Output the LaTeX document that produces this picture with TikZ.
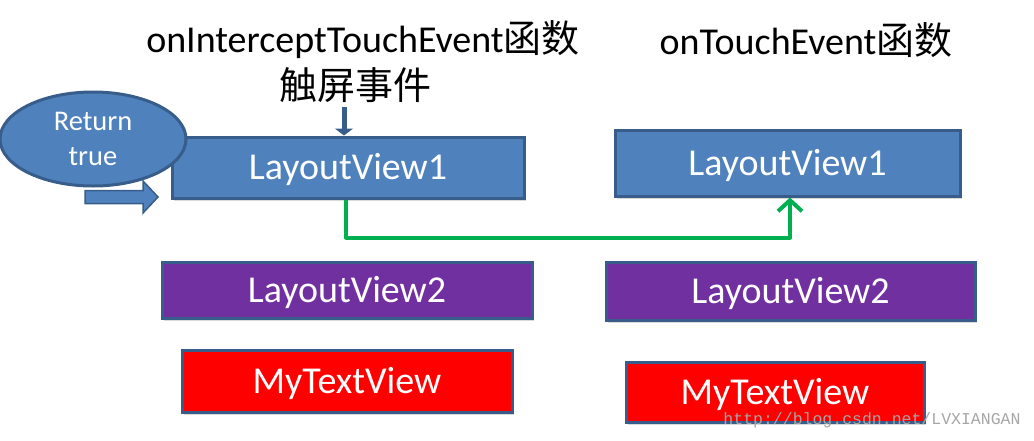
\documentclass[tikz,border=0pt]{standalone}
\usepackage{fontspec}
\setmainfont{Carlito}
\newfontfamily\cjk{Noto Sans CJK SC}
\newfontfamily\markfont{Liberation Mono}
\usetikzlibrary{shadows,shapes.geometric,arrows.meta}
\definecolor{viewblue}{HTML}{4F81BD}
\definecolor{viewedge}{HTML}{385D8A}
\definecolor{viewpurple}{HTML}{7030A0}
\definecolor{viewred}{HTML}{FF0000}
\definecolor{flowgreen}{HTML}{00B050}
\begin{document}
\begin{tikzpicture}[x=1pt,y=-1pt,
    view/.style={draw=viewedge, line width=3pt, inner sep=0pt, text=white,
        text height=31pt, text depth=7pt,
        font=\fontsize{38}{38}\selectfont,
        drop shadow={opacity=0.3, shadow xshift=2pt, shadow yshift=-3pt}},
    title/.style={font=\fontsize{38}{42}\selectfont}]
    \useasboundingbox (0,0) rectangle (1034,440);
    % headings
    \node[title] (intercept) at (363,40) {onInterceptTouchEvent{\cjk 函数}};
    \node[title] (touch) at (806,40) {onTouchEvent{\cjk 函数}};
    \node[title] (screen) at (355,85) {\cjk 触屏事件};
    % left column
    \node[view, fill=viewblue, minimum width=352pt, minimum height=61pt]
        (lview1) at (348,167.5) {LayoutView1};
    \node[view, fill=viewpurple, minimum width=370pt, minimum height=56pt]
        (lview2) at (347,290) {LayoutView2};
    \node[view, fill=viewred, minimum width=330pt, minimum height=62pt]
        (ltext) at (347,381) {MyTextView};
    % right column
    \node[view, fill=viewblue, minimum width=345pt, minimum height=66pt]
        (rview1) at (787.5,163) {LayoutView1};
    \node[view, fill=viewpurple, minimum width=369pt, minimum height=58pt]
        (rview2) at (790.5,291) {LayoutView2};
    \node[view, fill=viewred, minimum width=298pt, minimum height=60pt]
        (rtext) at (775,392) {MyTextView};
    % return true
    \node[ellipse, draw=viewedge, line width=3pt, fill=viewblue, text=white,
        minimum width=186pt, minimum height=94pt, inner sep=0pt, align=center,
        font=\fontsize{28.5}{35}\selectfont] (ret) at (93,139) {Return\\true};
    \filldraw[fill=viewblue, draw=viewedge, line width=1.5pt]
        (85,190.5) -- (143,190.5) -- (143,181) -- (158,197) -- (143,213)
        -- (143,203.5) -- (85,203.5) -- cycle;
    % touch event in
    \coordinate (tapin) at (344,107);
    \draw[viewedge, line width=5pt, -{Triangle[length=7pt,width=18pt]}]
        (tapin) -- (tapin |- lview1.north);
    % passed on to onTouchEvent
    \draw[flowgreen, line width=4pt, line join=round,
        -{Straight Barb[length=11pt,width=24pt,line width=4pt]}]
        ([xshift=-2pt]lview1.south) -- ++(0,38) -| ([xshift=2.5pt]rview1.south);
    \node[text=black!35, font=\markfont\fontsize{16.5}{16.5}\selectfont]
        (mark) at (872,420) {http://blog.csdn.net/LVXIANGAN};
\end{tikzpicture}
\end{document}
